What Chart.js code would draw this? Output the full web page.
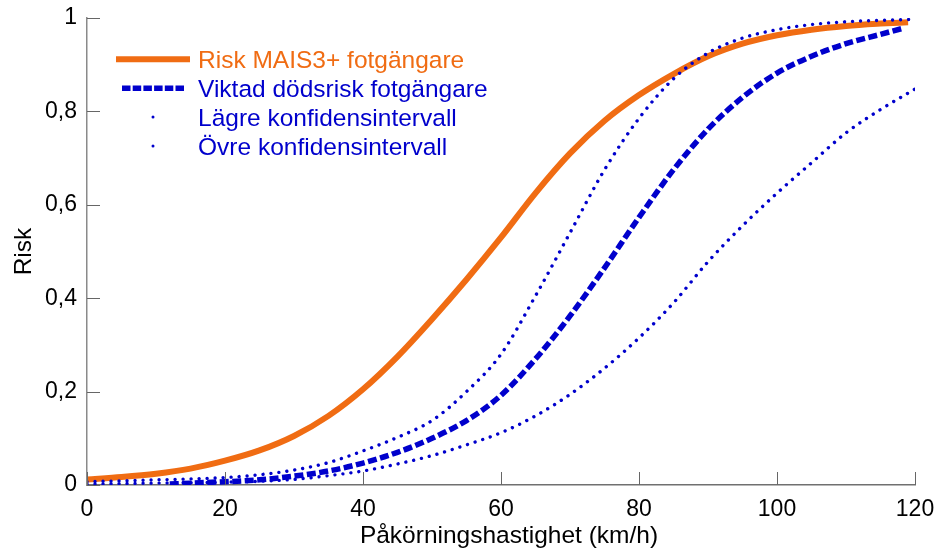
<!DOCTYPE html>
<html>
<head>
<meta charset="utf-8">
<script src="https://cdn.jsdelivr.net/npm/chart.js@4/dist/chart.umd.min.js"></script>
<style>
  html, body { margin: 0; padding: 0; background: #ffffff; }
  #wrap { width: 938px; height: 549px; }
</style>
</head>
<body>
<div id="wrap"><canvas id="c" width="938" height="549"></canvas></div>
<script>
// Speeds (km/h) and risk values per curve
const speedsMais = [0, 5, 10, 15, 20, 25, 30, 35, 40, 45, 50, 55, 60, 65, 70, 75, 80, 85, 90, 95, 100, 105, 110, 115, 119];
const riskMais = [0.012, 0.017, 0.024, 0.035, 0.052, 0.074, 0.105, 0.148, 0.205, 0.275, 0.355, 0.44, 0.53, 0.625, 0.71, 0.78, 0.835, 0.88, 0.918, 0.945, 0.963, 0.975, 0.983, 0.988, 0.991];

const speedsDeath = [12, 15, 20, 25, 30, 35, 40, 45, 50, 55, 60, 65, 70, 75, 80, 85, 90, 95, 100, 105, 110, 115, 118];
const riskDeath = [0.002, 0.004, 0.007, 0.011, 0.019, 0.03, 0.047, 0.07, 0.1, 0.138, 0.192, 0.27, 0.362, 0.465, 0.573, 0.675, 0.762, 0.83, 0.882, 0.918, 0.945, 0.965, 0.977];

const speedsCi = [0, 5, 10, 15, 20, 25, 30, 35, 40, 45, 50, 55, 60, 65, 70, 75, 80, 85, 90, 95, 100, 105, 110, 115, 120];
const ciLower = [0.002, 0.003, 0.004, 0.005, 0.006, 0.008, 0.012, 0.02, 0.03, 0.045, 0.063, 0.086, 0.112, 0.148, 0.194, 0.25, 0.315, 0.39, 0.478, 0.555, 0.625, 0.69, 0.754, 0.804, 0.848];
const ciUpper = [0.007, 0.009, 0.011, 0.013, 0.016, 0.022, 0.032, 0.048, 0.073, 0.102, 0.138, 0.2, 0.28, 0.405, 0.54, 0.675, 0.785, 0.87, 0.925, 0.957, 0.975, 0.986, 0.992, 0.995, 0.997];

const seriesNames = ['Risk MAIS3+ fotgängare', 'Viktad dödsrisk fotgängare', 'Lägre konfidensintervall', 'Övre konfidensintervall'];
const xTickValues = [0, 20, 40, 60, 80, 100, 120];
const yTickValues = [0, 0.2, 0.4, 0.6, 0.8, 1];
const yTickLabels = ['0', '0,2', '0,4', '0,6', '0,8', '1'];
const xTitle = 'Påkörningshastighet (km/h)';
const yTitle = 'Risk';

const ORANGE = '#f06c13';
const BLUE = '#0000cc';
const FONT = '"Liberation Sans", Arial, sans-serif';

const toPoints = (xs, ys) => xs.map((x, i) => ({ x: x, y: ys[i] }));

// Legend drawn inside the plot area, top left
const insideLegend = {
  id: 'insideLegend',
  afterDatasetsDraw(chart) {
    const ctx = chart.ctx;
    ctx.save();
    ctx.font = '24.5px ' + FONT;
    ctx.textAlign = 'left';
    ctx.textBaseline = 'alphabetic';
    chart.data.datasets.forEach((ds, i) => {
      const mid = 59.3 + i * 28.9;
      const dash = ds.borderDash || [];
      ctx.strokeStyle = ds.borderColor;
      ctx.fillStyle = ds.borderColor;
      if (dash.length === 0) {
        ctx.lineWidth = ds.borderWidth;
        ctx.setLineDash([]);
        ctx.beginPath(); ctx.moveTo(116, mid); ctx.lineTo(190, mid); ctx.stroke();
      } else if (dash[0] > 2) {
        ctx.lineWidth = ds.borderWidth;
        ctx.setLineDash([8.5, 2.2]);
        ctx.beginPath(); ctx.moveTo(122, mid); ctx.lineTo(185, mid); ctx.stroke();
        ctx.setLineDash([]);
      } else {
        ctx.beginPath(); ctx.arc(153, mid, 1.5, 0, Math.PI * 2); ctx.fill();
      }
      ctx.fillText(ds.label, 198, mid + 8.5);
    });
    ctx.restore();
  }
};

// Inward tick marks and axis titles
const axisDecor = {
  id: 'axisDecor',
  afterDraw(chart) {
    const ctx = chart.ctx;
    const xs = chart.scales.x, ys = chart.scales.y;
    const area = chart.chartArea;
    ctx.save();
    ctx.strokeStyle = '#666666';
    ctx.lineWidth = 1;
    xTickValues.forEach(v => {
      const px = Math.round(xs.getPixelForValue(v)) + 0.5;
      ctx.beginPath(); ctx.moveTo(px, area.bottom); ctx.lineTo(px, area.bottom - 13); ctx.stroke();
    });
    yTickValues.forEach(v => {
      const py = Math.round(ys.getPixelForValue(v)) + 0.5;
      ctx.beginPath(); ctx.moveTo(area.left, py); ctx.lineTo(area.left + 13, py); ctx.stroke();
    });
    ctx.fillStyle = '#000000';
    ctx.font = '24.5px ' + FONT;
    ctx.textAlign = 'center';
    ctx.textBaseline = 'alphabetic';
    ctx.fillText(xTitle, 509, 542.5);
    ctx.translate(30.5, (area.top + area.bottom) / 2);
    ctx.rotate(-Math.PI / 2);
    ctx.fillText(yTitle, 0, 0);
    ctx.restore();
  }
};

Chart.defaults.font.family = FONT;
Chart.defaults.font.size = 23;
Chart.defaults.color = '#000000';

new Chart(document.getElementById('c'), {
  type: 'line',
  data: {
    datasets: [
      {
        label: seriesNames[0],
        data: toPoints(speedsMais, riskMais),
        borderColor: ORANGE, borderWidth: 6, borderDash: [],
        pointRadius: 0, cubicInterpolationMode: 'monotone', fill: false, order: 10
      },
      {
        label: seriesNames[1],
        data: toPoints(speedsDeath, riskDeath),
        borderColor: BLUE, borderWidth: 5.5, borderDash: [9, 3.5],
        pointRadius: 0, cubicInterpolationMode: 'monotone', fill: false, order: 2
      },
      {
        label: seriesNames[2],
        data: toPoints(speedsCi, ciLower),
        borderColor: BLUE, borderWidth: 3.4, borderDash: [0.01, 8], borderCapStyle: 'round',
        pointRadius: 0, cubicInterpolationMode: 'monotone', fill: false, order: 1
      },
      {
        label: seriesNames[3],
        data: toPoints(speedsCi, ciUpper),
        borderColor: BLUE, borderWidth: 3.4, borderDash: [0.01, 8], borderCapStyle: 'round',
        pointRadius: 0, cubicInterpolationMode: 'monotone', fill: false, order: 0
      }
    ]
  },
  options: {
    responsive: false,
    animation: false,
    devicePixelRatio: 1,
    layout: { padding: { top: 18, right: 23, left: 0, bottom: 0 } },
    plugins: { legend: { display: false }, tooltip: { enabled: false } },
    scales: {
      x: {
        type: 'linear', min: 0, max: 120,
        afterBuildTicks: s => { s.ticks = xTickValues.map(v => ({ value: v })); },
        ticks: { padding: 11, font: { size: 23 }, color: '#000', maxRotation: 0 },
        grid: { display: false, drawTicks: false },
        border: { display: true, color: '#707070', width: 1.5 },
        afterFit: s => { s.height = 64; s.paddingLeft = 0; s.paddingRight = 0; }
      },
      y: {
        type: 'linear', min: 0, max: 1,
        afterBuildTicks: s => { s.ticks = yTickValues.map(v => ({ value: v })); },
        ticks: {
          padding: 10, font: { size: 23 }, color: '#000',
          callback: (v) => { const i = yTickValues.findIndex(t => Math.abs(t - v) < 1e-6); return i >= 0 ? yTickLabels[i] : ''; }
        },
        grid: { display: false, drawTicks: false },
        border: { display: true, color: '#8a8a8a', width: 1.5 },
        afterFit: s => { s.width = 87; s.paddingTop = 0; s.paddingBottom = 0; }
      }
    }
  },
  plugins: [insideLegend, axisDecor]
});
</script>
</body>
</html>
